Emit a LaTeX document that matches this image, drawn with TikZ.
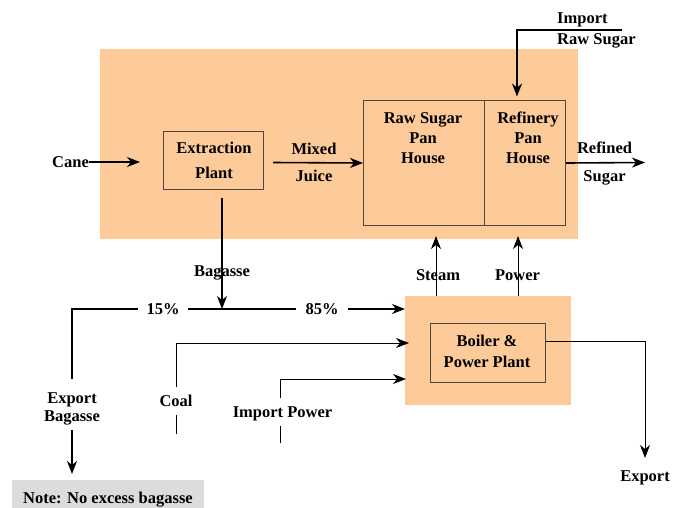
\documentclass[tikz,border=0pt]{standalone}
\usepackage{fontspec}
\setmainfont{Liberation Serif}
\usetikzlibrary{arrows.meta}
\definecolor{orng}{RGB}{253,203,153}
\definecolor{notegray}{RGB}{220,220,220}
\definecolor{boxline}{RGB}{80,72,64}
\begin{document}
\begin{tikzpicture}[x=1pt,y=-1pt,
  txt/.style={font=\fontsize{16.5}{20}\selectfont\bfseries, inner sep=0pt, align=center},
  lbl/.style={font=\fontsize{16.5}{20}\selectfont\bfseries, inner sep=0pt, text height=11pt, text depth=0pt},
  zone/.style={fill=orng, draw=none, inner sep=0pt, anchor=north west},
  unitbox/.style={draw=boxline, line width=1pt, inner sep=0pt, anchor=north west},
  tip/.style={-{Stealth[length=13pt,width=10pt,inset=4pt]}},
  flow/.style={line width=1.6pt, tip},
  flowplain/.style={line width=1.6pt},
  thinflow/.style={line width=1pt, tip},
  thinplain/.style={line width=1pt}]
\useasboundingbox (0,0) rectangle (682,507);

% zones and boxes
\node[zone, minimum width=478pt, minimum height=190pt] (topzone) at (100,49) {};
\node[zone, minimum width=166pt, minimum height=109pt] (bzone) at (405,296) {};
\node[unitbox, minimum width=100pt, minimum height=58pt] (extr) at (163,131) {};
\node[unitbox, minimum width=121pt, minimum height=125pt] (raw) at (363,100) {};
\node[unitbox, minimum width=81pt, minimum height=125pt] (ref) at (484,100) {};
\node[unitbox, minimum width=115pt, minimum height=59pt] (bpp) at (430,323) {};
\node[fill=notegray, inner sep=0pt, anchor=north west, minimum width=192pt, minimum height=34pt] (note) at (12,480) {};

% texts in boxes
\node[txt, font=\fontsize{16.5}{25}\selectfont\bfseries] (extrtxt) at (214,160.5) {Extraction\\Plant};
\node[txt] (rawtxt) at (423,138) {Raw Sugar\\Pan\\House};
\node[txt] (reftxt) at (528,138) {Refinery\\Pan\\House};
\node[txt, font=\fontsize{16.5}{21}\selectfont\bfseries] (bpptxt) at (487,351.5) {Boiler \&\\Power Plant};
\node[lbl] (notetxt) at (108,497.5) {Note: No excess bagasse};

% labels
\node[lbl] (cane) at (70.5,162) {Cane};
\node[txt, font=\fontsize{16.5}{27}\selectfont\bfseries] (mj) at (314,162.5) {Mixed\\Juice};
\node[txt, font=\fontsize{16.5}{28}\selectfont\bfseries] (rs) at (604.5,163.5) {Refined\\Sugar};
\node[txt, align=left, anchor=west, font=\fontsize{16.5}{21}\selectfont\bfseries] (irs) at (557,30.2) {Import\\Raw Sugar};
\node[txt, font=\fontsize{16.5}{18}\selectfont\bfseries] (ebag) at (72,408.5) {Export\\Bagasse};
\node[lbl, inner ysep=8.5pt] (coal) at (176,401) {Coal};
\node[lbl, inner ysep=8pt] (ip) at (282.5,412) {Import Power};
\node[lbl] (expt) at (645,476) {Export};

% coordinates
\coordinate (canetip) at (140,162);
\coordinate (mjstart) at (273,162.5);
\coordinate (rstip) at (645,162.5);
\coordinate (irsend) at (622,30);
\coordinate (irstip) at (517,96.5);
\coordinate (bagtop) at (222,198);
\coordinate (split) at (222,309);
\coordinate (ebagtop) at (72,379);
\coordinate (ebagbot) at (72,430);
\coordinate (ebagtip) at (72,474);
\coordinate (coalfoot) at (176,434);
\coordinate (cin) at (409,343);
\coordinate (ipfoot) at (280,443);
\coordinate (pin) at (406,379);
\coordinate (stfoot) at (436,296);
\coordinate (sttip) at (436,236);
\coordinate (pwfoot) at (518,296);
\coordinate (pwtip) at (518,236);
\coordinate (exptip) at (645,458);

% thick flows
\draw[flow] (cane.east) -- (canetip);
\draw[flow] (mjstart) -- (raw.west);
\draw[flow] (ref.east) -- (rstip);
\draw[flow] (irsend) -| (irstip);
\draw[flow] (bagtop) -- (split);
\draw[flow] (ebagbot) -- (ebagtip);

% 15% / 85% split
\node[lbl, fill=white, inner xsep=8.5pt] (p15) at (163,309) {15\%};
\node[lbl, fill=white, inner xsep=9pt] (p85) at (322,309) {85\%};
\draw[flowplain] (p15.east) -- (p85.west);
\draw[flowplain] (p15.west) -| (ebagtop);
\draw[flow] (p85.east) -- (p85.east -| bzone.west);

% thin flows
\draw[thinflow] (stfoot) -- (sttip);
\draw[thinflow] (pwfoot) -- (pwtip);
\draw[thinplain] (coalfoot) -- (coal);
\draw[thinflow] (coal) |- (cin);
\draw[thinplain] (ipfoot) -- (ipfoot |- ip.south);
\draw[thinflow] (ipfoot |- ip.north) |- (pin);
\draw[thinflow] ([yshift=11.5pt]bpp.east) -| (exptip);

% labels over lines
\node[lbl] (bag) at (222,271) {Bagasse};
\node[lbl] (steam) at (438,275) {Steam};
\node[lbl] (power) at (517.5,275) {Power};
\end{tikzpicture}
\end{document}
